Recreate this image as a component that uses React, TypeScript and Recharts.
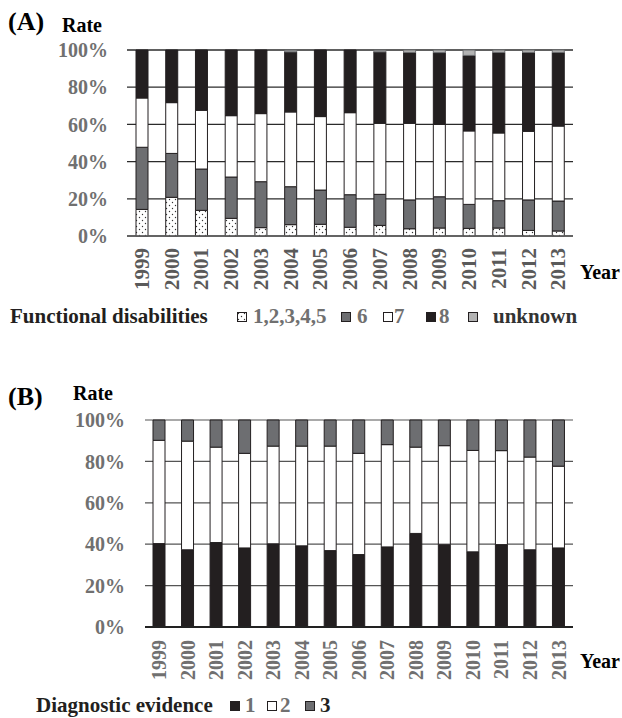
import { Bar, BarChart, CartesianGrid, XAxis, YAxis } from "recharts";

const years = ["1999", "2000", "2001", "2002", "2003", "2004", "2005", "2006", "2007", "2008", "2009", "2010", "2011", "2012", "2013"];

// (A) functional disability grade shares, % per year (stacked bottom -> top)
const fd12345 = [14.3, 20.8, 13.8, 9.5, 4.5, 6.1, 6.3, 4.7, 5.7, 3.9, 4.3, 4.1, 4.3, 3.0, 2.7];
const fd6 = [33.4, 23.6, 22.2, 22.2, 24.7, 20.4, 18.4, 17.5, 16.7, 15.5, 16.8, 12.9, 14.7, 16.4, 16.1];
const fd7 = [26.5, 27.3, 31.6, 33.0, 36.6, 40.2, 39.5, 44.1, 38.2, 41.2, 38.9, 39.5, 36.4, 36.9, 40.3];
const fd8 = [25.8, 28.3, 32.4, 35.3, 34.2, 32.3, 35.8, 33.7, 38.4, 38.1, 38.6, 40.6, 43.3, 42.4, 39.6];
const fdUnknown = [0, 0, 0, 0, 0, 0.9, 0, 0, 0.9, 1.3, 1.4, 2.9, 1.3, 1.3, 1.3];

// (B) diagnostic evidence level shares, % per year
const de1 = [40.3, 37.3, 40.8, 38.2, 40.2, 39.2, 36.9, 35.0, 38.7, 45.2, 40.0, 36.3, 39.8, 37.3, 38.2];
const de2 = [49.9, 52.5, 46.1, 45.7, 47.2, 48.2, 50.5, 48.9, 49.4, 41.7, 47.6, 49.0, 45.4, 44.8, 39.5];
const de3 = [9.8, 10.2, 13.1, 16.1, 12.6, 12.6, 12.6, 16.1, 11.9, 13.1, 12.4, 14.7, 14.8, 17.9, 22.3];

const rateTicks = [0, 20, 40, 60, 80, 100];

const dataA = years.map((year, i) => ({
  year,
  g12345: fd12345[i],
  g6: fd6[i],
  g7: fd7[i],
  g8: fd8[i],
  unknown: fdUnknown[i],
}));

const dataB = years.map((year, i) => ({ year, e1: de1[i], e2: de2[i], e3: de3[i] }));

const SERIF = "'Liberation Serif', 'Times New Roman', serif";
const BLACK = "#231f20";
const DARK_GRAY = "#6d6e71";
const LIGHT_GRAY = "#b3b3b3";
const LABEL_GRAY = "#707070";

const bold = { fontFamily: SERIF, fontWeight: 700 } as const;

function YearTick({ x, y, payload, fill, size }: any) {
  return (
    <text
      transform={`translate(${x + size * 0.34},${y}) rotate(-90)`}
      textAnchor="end"
      fill={fill}
      fontSize={size}
      style={bold}
    >
      {payload.value}
    </text>
  );
}

function Swatch({ fill, border = BLACK }: { fill: string; border?: string }) {
  return (
    <svg width={10} height={10} style={{ display: "block" }}>
      <rect x={0.5} y={0.5} width={9} height={9} fill={fill} stroke={border} strokeWidth={1} />
    </svg>
  );
}

// legend entry: swatch at `at`, label starting at `textAt` (both relative to the row)
function LegendItem({ fill, label, color, at, textAt }: { fill: string; label: string; color: string; at: number; textAt: number }) {
  return (
    <>
      <div style={{ position: "absolute", left: at, top: 6 }}>
        <Swatch fill={fill} />
      </div>
      <span style={{ position: "absolute", left: textAt, top: 0, color }}>{label}</span>
    </>
  );
}

const abs = (left: number, top: number) => ({ position: "absolute" as const, left, top, lineHeight: 1, whiteSpace: "nowrap" as const });

export default function App() {
  return (
    <div style={{ position: "absolute", left: 0, top: 0, width: 622, height: 718, background: "#fff", ...bold }}>
      <svg width={0} height={0} style={{ position: "absolute" }}>
        <defs>
          <pattern id="dots" width={6} height={6} patternUnits="userSpaceOnUse">
            <rect width={6} height={6} fill="#fff" />
            <circle cx={1.5} cy={1.5} r={0.7} fill="#333" />
            <circle cx={4.5} cy={4.5} r={0.7} fill="#333" />
          </pattern>
        </defs>
      </svg>

      {/* (A) functional disabilities */}
      <div style={{ ...abs(8, 9), fontSize: 26 }}>(A)</div>
      <div style={{ ...abs(62, 15), fontSize: 20 }}>Rate</div>
      <div style={{ position: "absolute", left: 0, top: 0 }}>
        <BarChart width={622} height={300} data={dataA} margin={{ top: 50, right: 49, left: 0, bottom: 20 }} barSize={12}>
          <CartesianGrid horizontal vertical={false} stroke="#2b2b2b" strokeWidth={1.3} />
          <YAxis
            width={127}
            domain={[0, 100]}
            ticks={rateTicks}
            interval={0}
            tickFormatter={(v) => `${v}%`}
            axisLine={false}
            tickLine={false}
            tickSize={0}
            tickMargin={19}
            tick={{ fill: LABEL_GRAY, fontSize: 20, fontFamily: SERIF, fontWeight: 700 }}
          />
          <XAxis
            dataKey="year"
            height={44}
            interval={0}
            tickLine={false}
            tickSize={0}
            tickMargin={12}
            axisLine={{ stroke: "#666", strokeWidth: 1.5 }}
            tick={(p: any) => <YearTick {...p} fill="#5a5a5a" size={21} />}
          />
          <Bar dataKey="g12345" stackId="a" fill="url(#dots)" stroke={BLACK} strokeWidth={1} isAnimationActive={false} />
          <Bar dataKey="g6" stackId="a" fill={DARK_GRAY} stroke={BLACK} strokeWidth={1} isAnimationActive={false} />
          <Bar dataKey="g7" stackId="a" fill="#fff" stroke={BLACK} strokeWidth={1} isAnimationActive={false} />
          <Bar dataKey="g8" stackId="a" fill={BLACK} stroke={BLACK} strokeWidth={1} isAnimationActive={false} />
          <Bar dataKey="unknown" stackId="a" fill={LIGHT_GRAY} stroke={DARK_GRAY} strokeWidth={1} isAnimationActive={false} />
        </BarChart>
      </div>
      <div style={{ ...abs(580, 262), fontSize: 20 }}>Year</div>
      <div style={{ ...abs(0, 306), width: 622, height: 22, fontSize: 21 }}>
        <span style={{ position: "absolute", left: 10, top: 0, color: BLACK }}>Functional disabilities</span>
        <LegendItem fill="url(#dots)" label="1,2,3,4,5" color={LABEL_GRAY} at={237} textAt={253} />
        <LegendItem fill={DARK_GRAY} label="6" color={LABEL_GRAY} at={341} textAt={357} />
        <LegendItem fill="#fff" label="7" color={LABEL_GRAY} at={383} textAt={394} />
        <LegendItem fill={BLACK} label="8" color={LABEL_GRAY} at={426} textAt={439} />
        <LegendItem fill={LIGHT_GRAY} label="unknown" color="#333" at={468} textAt={493} />
      </div>

      {/* (B) diagnostic evidence */}
      <div style={{ ...abs(8, 384), fontSize: 26 }}>(B)</div>
      <div style={{ ...abs(73, 383), fontSize: 20 }}>Rate</div>
      <div style={{ position: "absolute", left: 0, top: 360 }}>
        <BarChart width={622} height={358} data={dataB} margin={{ top: 60, right: 49, left: 0, bottom: 47 }} barSize={12}>
          <CartesianGrid horizontal vertical={false} stroke="#555" strokeWidth={1.2} />
          <YAxis
            width={145}
            domain={[0, 100]}
            ticks={rateTicks}
            interval={0}
            tickFormatter={(v) => `${v}%`}
            axisLine={false}
            tickLine={false}
            tickSize={0}
            tickMargin={20}
            tick={{ fill: LABEL_GRAY, fontSize: 20, fontFamily: SERIF, fontWeight: 700 }}
          />
          <XAxis
            dataKey="year"
            height={44}
            interval={0}
            tickLine={false}
            tickSize={0}
            tickMargin={13}
            axisLine={{ stroke: "#222", strokeWidth: 2 }}
            tick={(p: any) => <YearTick {...p} fill={LABEL_GRAY} size={20} />}
          />
          <Bar dataKey="e1" stackId="b" fill={BLACK} stroke={BLACK} strokeWidth={1} isAnimationActive={false} />
          <Bar dataKey="e2" stackId="b" fill="#fff" stroke={BLACK} strokeWidth={1} isAnimationActive={false} />
          <Bar dataKey="e3" stackId="b" fill={DARK_GRAY} stroke={BLACK} strokeWidth={1} isAnimationActive={false} />
        </BarChart>
      </div>
      <div style={{ ...abs(580, 651), fontSize: 20 }}>Year</div>
      <div style={{ ...abs(0, 695), width: 622, height: 22, fontSize: 21 }}>
        <span style={{ position: "absolute", left: 36, top: 0, color: BLACK }}>Diagnostic evidence</span>
        <LegendItem fill={BLACK} label="1" color={LABEL_GRAY} at={230} textAt={245} />
        <LegendItem fill="#fff" label="2" color={LABEL_GRAY} at={267} textAt={280} />
        <LegendItem fill={DARK_GRAY} label="3" color={BLACK} at={305} textAt={320} />
      </div>
    </div>
  );
}
